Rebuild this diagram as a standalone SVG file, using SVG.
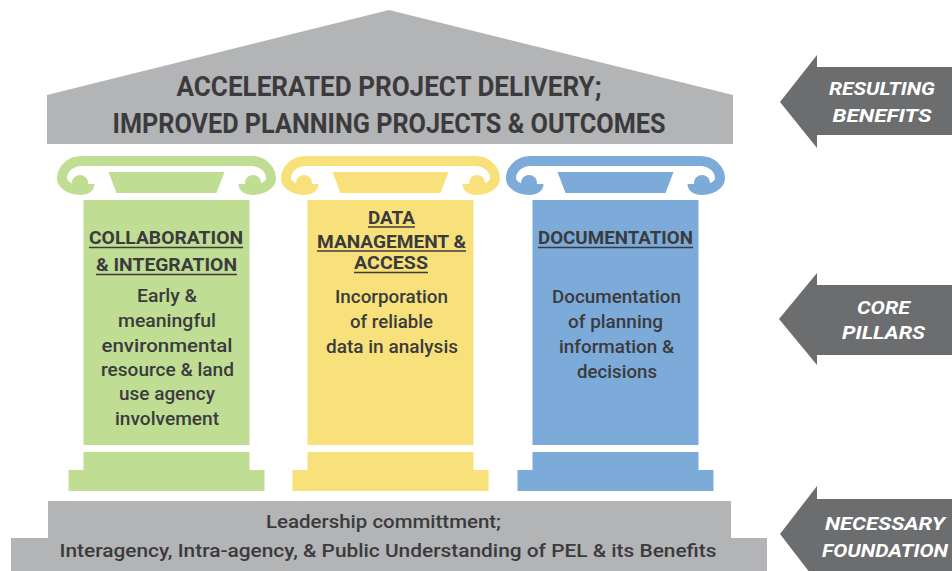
<svg xmlns="http://www.w3.org/2000/svg" xmlns:xlink="http://www.w3.org/1999/xlink" width="952" height="571" viewBox="0 0 952 571">
<style>
.gray{fill:#b3b4b6}
.arrow{fill:#6c6d6f}
.title{font-family:Roboto,"Liberation Sans",sans-serif;font-weight:700;font-size:27px;fill:#3b3b3d;text-anchor:middle}
.head{font-family:Roboto,"Liberation Sans",sans-serif;font-weight:700;font-size:19px;fill:#3b3b3d;text-anchor:middle}
.body{font-family:Roboto,"Liberation Sans",sans-serif;font-weight:500;font-size:18.5px;fill:#3b3b3d;text-anchor:middle}
.base{font-family:Roboto,"Liberation Sans",sans-serif;font-weight:500;font-size:19px;fill:#3b3b3d;text-anchor:middle}
.lab{font-family:Roboto,"Liberation Sans",sans-serif;font-weight:700;font-style:italic;font-size:19px;fill:#ffffff;text-anchor:middle}
.ul{stroke:#3b3b3d;stroke-width:1.5}
</style>
<defs>
<g id="capital">
<path d="M -77 184 A 8 6 0 0 1 -85 190 A 19.5 11.5 0 0 1 -104.5 178.5 A 19.5 17.5 0 0 1 -85 161 H 85 A 19.5 17.5 0 0 1 104.5 178.5 A 19.5 11.5 0 0 1 85 190 A 8 6 0 0 1 77 184" fill="none" stroke="currentColor" stroke-width="10"/>
<circle cx="-86.5" cy="183" r="8" fill="currentColor"/>
<circle cx="86.5" cy="183" r="8" fill="currentColor"/>
<polygon points="-58,172 58,172 50,193 -50,193" fill="currentColor"/>
<rect x="-83" y="200" width="166" height="245" fill="currentColor"/>
<rect x="-83" y="452" width="166" height="18" fill="currentColor"/>
<rect x="-98" y="470" width="196" height="21" fill="currentColor"/>
</g>
</defs>
<rect width="952" height="571" fill="#ffffff"/>

<g id="roof">
<polygon class="gray" points="47,95 389,10 733,95 733,144 47,144"/>
<text class="title" x="389" y="96" textLength="425" lengthAdjust="spacingAndGlyphs">ACCELERATED PROJECT DELIVERY;</text>
<text class="title" x="389" y="133" textLength="553" lengthAdjust="spacingAndGlyphs">IMPROVED PLANNING PROJECTS &amp; OUTCOMES</text>
</g>

<g id="pillar-collaboration">
<use xlink:href="#capital" href="#capital" x="166.5" style="color:#c0dd94"/>
<text class="head" x="166" y="244" textLength="154" lengthAdjust="spacingAndGlyphs">COLLABORATION</text>
<line class="ul" x1="89" y1="247.5" x2="243" y2="247.5"/>
<text class="head" x="166.5" y="271" textLength="141" lengthAdjust="spacingAndGlyphs">&amp; INTEGRATION</text>
<line class="ul" x1="96" y1="274.5" x2="237" y2="274.5"/>
<text class="body" x="167" y="302" textLength="60" lengthAdjust="spacingAndGlyphs">Early &amp;</text>
<text class="body" x="167" y="327" textLength="98" lengthAdjust="spacingAndGlyphs">meaningful</text>
<text class="body" x="167" y="352" textLength="131" lengthAdjust="spacingAndGlyphs">environmental</text>
<text class="body" x="167.5" y="376" textLength="133" lengthAdjust="spacingAndGlyphs">resource &amp; land</text>
<text class="body" x="167" y="400" textLength="96" lengthAdjust="spacingAndGlyphs">use agency</text>
<text class="body" x="167" y="425" textLength="104" lengthAdjust="spacingAndGlyphs">involvement</text>
</g>

<g id="pillar-data">
<use xlink:href="#capital" href="#capital" x="390.5" style="color:#f8e17b"/>
<text class="head" x="391.5" y="224" textLength="47" lengthAdjust="spacingAndGlyphs">DATA</text>
<line class="ul" x1="368" y1="227" x2="415" y2="227"/>
<text class="head" x="391.5" y="248" textLength="149" lengthAdjust="spacingAndGlyphs">MANAGEMENT &amp;</text>
<line class="ul" x1="317" y1="251" x2="466" y2="251"/>
<text class="head" x="391" y="269" textLength="74" lengthAdjust="spacingAndGlyphs">ACCESS</text>
<line class="ul" x1="354" y1="272.5" x2="428" y2="272.5"/>
<text class="body" x="391.5" y="303" textLength="113" lengthAdjust="spacingAndGlyphs">Incorporation</text>
<text class="body" x="391.5" y="328" textLength="83" lengthAdjust="spacingAndGlyphs">of reliable</text>
<text class="body" x="392" y="353" textLength="132" lengthAdjust="spacingAndGlyphs">data in analysis</text>
</g>

<g id="pillar-documentation">
<use xlink:href="#capital" href="#capital" x="615.5" style="color:#7caad9"/>
<text class="head" x="615.5" y="244" textLength="155" lengthAdjust="spacingAndGlyphs">DOCUMENTATION</text>
<line class="ul" x1="538" y1="247.5" x2="693" y2="247.5"/>
<text class="body" x="616.5" y="303" textLength="129" lengthAdjust="spacingAndGlyphs">Documentation</text>
<text class="body" x="615.5" y="328" textLength="95" lengthAdjust="spacingAndGlyphs">of planning</text>
<text class="body" x="616.5" y="353" textLength="115" lengthAdjust="spacingAndGlyphs">information &amp;</text>
<text class="body" x="617" y="378" textLength="80" lengthAdjust="spacingAndGlyphs">decisions</text>
</g>

<g id="foundation">
<polygon class="gray" points="48,501 731,501 731,538 767,538 767,571 11,571 11,538 48,538"/>
<text class="base" x="383.5" y="528" textLength="235" lengthAdjust="spacingAndGlyphs">Leadership committment;</text>
<text class="base" x="388" y="557" textLength="657" lengthAdjust="spacingAndGlyphs">Interagency, Intra-agency, &amp; Public Understanding of PEL &amp; its Benefits</text>
</g>

<g id="connectors">
<g id="arrow-resulting-benefits">
<path class="arrow" d="M 952 67 H 817 V 55 L 780 102 L 817 148 V 135 H 952 Z"/>
<text class="lab" x="882" y="95" textLength="106" lengthAdjust="spacingAndGlyphs">RESULTING</text>
<text class="lab" x="882" y="122" textLength="99" lengthAdjust="spacingAndGlyphs">BENEFITS</text>
</g>
<g id="arrow-core-pillars">
<path class="arrow" d="M 952 285 H 817 V 273 L 779 319 L 817 365 V 355 H 952 Z"/>
<text class="lab" x="883.5" y="314" textLength="53" lengthAdjust="spacingAndGlyphs">CORE</text>
<text class="lab" x="883.5" y="339" textLength="83" lengthAdjust="spacingAndGlyphs">PILLARS</text>
</g>
<g id="arrow-necessary-foundation">
<path class="arrow" d="M 952 499 H 817 V 486 L 780 534 L 817 582 V 575 H 952 Z"/>
<text class="lab" x="885" y="530" textLength="120" lengthAdjust="spacingAndGlyphs">NECESSARY</text>
<text class="lab" x="885" y="557" textLength="126" lengthAdjust="spacingAndGlyphs">FOUNDATION</text>
</g>
</g>
</svg>
